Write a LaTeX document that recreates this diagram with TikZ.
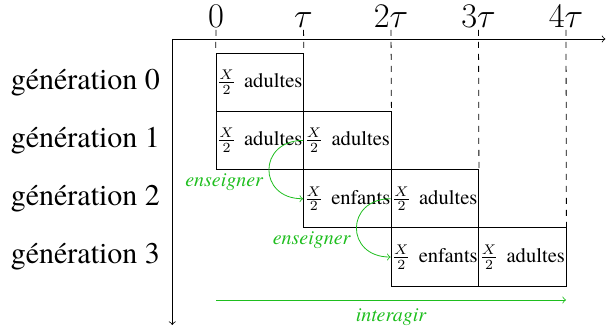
\documentclass[tikz,border=0pt]{standalone}
\usepackage{amsmath}
\usepackage{fontspec}
\setmainfont{texgyretermes}[Extension=.otf, UprightFont=*-regular, ItalicFont=*-italic, BoldFont=*-bold, BoldItalicFont=*-bolditalic]
\usepackage{tikz}
\usetikzlibrary{positioning}
\definecolor{vert}{RGB}{30,190,30}

\begin{document}
\begin{tikzpicture}[x=43.75pt, y=29.15pt]
        \tikzstyle{case}=[draw, minimum width=43.75pt, minimum height=29.15pt, inner sep=0pt, font=\fontsize{10.3}{12.4}\selectfont]
        \tikzstyle{gen}=[anchor=east, font=\fontsize{15}{18}\selectfont]
        \tikzstyle{temps}=[anchor=south, inner sep=1pt, font=\fontsize{17}{20}\selectfont]
        \tikzstyle{fleche}=[->, vert]
        \tikzstyle{verbe}=[vert, font=\fontsize{10}{12}\selectfont\itshape]

        \useasboundingbox (-2.469,0.669) rectangle (4.457,-5.094);

        % axes
        \coordinate (O)  at (-0.5,0);
        \coordinate (Ox) at (4.45,0);
        \coordinate (Oy) at (-0.5,-4.906);
        \draw[->] (O) -- (Ox);
        \draw[->] (O) -- (Oy);

        \foreach \k/\lab in {0/0, 1/\tau, 2/2\tau, 3/3\tau, 4/4\tau}
            \node[temps] (t\k) at (\k,0.155) {$\lab$};

        % generations
        \foreach \i in {0,...,3}
            \node[gen] (n\i) at (-0.56,-0.74-\i) {génération \i};

        \node[case] (g0a) at (0.5,-0.74) {$\frac{X}{2}$\hspace{4pt}adultes};
        \node[case] (g1a) at (0.5,-1.74) {$\frac{X}{2}$\hspace{4pt}adultes};
        \node[case] (g1b) at (1.5,-1.74) {$\frac{X}{2}$\hspace{4pt}adultes};
        \node[case] (g2a) at (1.5,-2.74) {$\frac{X}{2}$\hspace{4pt}enfants};
        \node[case] (g2b) at (2.5,-2.74) {$\frac{X}{2}$\hspace{4pt}adultes};
        \node[case] (g3a) at (2.5,-3.74) {$\frac{X}{2}$\hspace{4pt}enfants};
        \node[case] (g3b) at (3.5,-3.74) {$\frac{X}{2}$\hspace{4pt}adultes};

        \draw[dashed] (t0.south) -- (g0a.north west);
        \draw[dashed] (t1.south) -- (g0a.north east);
        \draw[dashed] (t2.south) -- (g1b.north east);
        \draw[dashed] (t3.south) -- (g2b.north east);
        \draw[dashed] (t4.south) -- (g3b.north east);

        \draw[fleche] (g1b.west) to[out=180, in=180, looseness=2]
            node[verbe, pos=0.65, left=1pt] {enseigner} (g2a.west);
        \draw[fleche] (g2b.west) to[out=180, in=180, looseness=2]
            node[verbe, pos=0.65, left=1pt] {enseigner} (g3a.west);

        \coordinate (i0) at (0,-4.477);
        \coordinate (i4) at (4,-4.477);
        \draw[fleche] (i0) -- (i4) node[verbe, midway, below=1pt] {interagir};

    \end{tikzpicture}
\end{document}
